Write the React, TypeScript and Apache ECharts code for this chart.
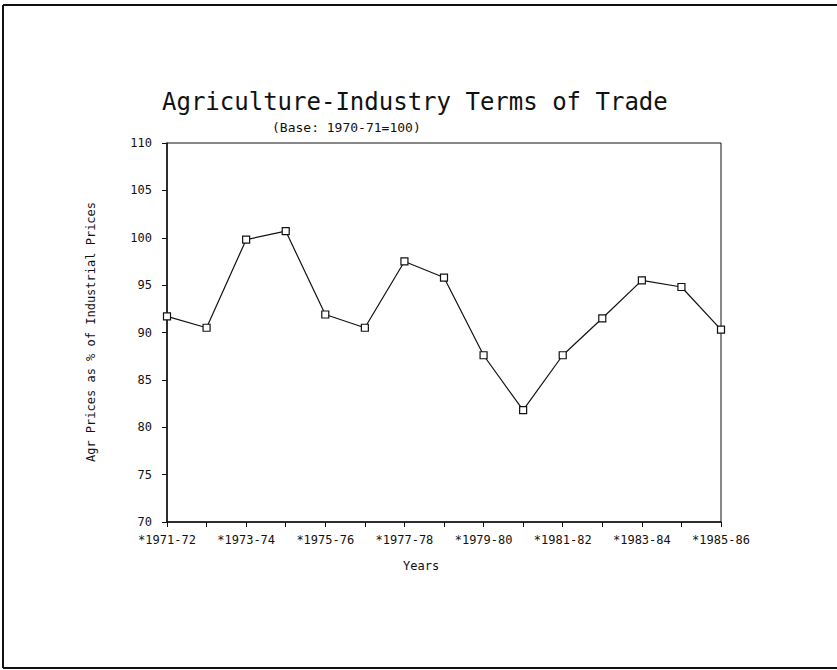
import React, { useEffect, useRef } from "react";
import * as echarts from "echarts";

const categories = [
  "1971-72", "1972-73", "1973-74", "1974-75", "1975-76", "1976-77", "1977-78", "1978-79",
  "1979-80", "1980-81", "1981-82", "1982-83", "1983-84", "1984-85", "1985-86",
];
const termsOfTrade = [91.7, 90.5, 99.8, 100.7, 91.9, 90.5, 97.5, 95.8, 87.6, 81.8, 87.6, 91.5, 95.5, 94.8, 90.3];
const titleText = "Agriculture-Industry Terms of Trade";
const subtitleText = "(Base: 1970-71=100)";
const xAxisName = "Years";
const yAxisName = "Agr Prices as % of Industrial Prices";

const FONT = "'DejaVu Sans Mono', monospace";

export default function App() {
  const ref = useRef<HTMLDivElement>(null);
  useEffect(() => {
    if (!ref.current) return;
    const chart = echarts.init(ref.current, null, { renderer: "svg" });
    chart.setOption({
      animation: false,
      backgroundColor: "#ffffff",
      grid: {
        left: 167,
        top: 143,
        width: 554,
        height: 379,
        show: true,
        borderColor: "#111",
        borderWidth: 1,
        containLabel: false,
      },
      xAxis: {
        type: "category",
        data: categories,
        boundaryGap: false,
        axisLine: { lineStyle: { color: "#111", width: 1.5 } },
        axisTick: { show: true, inside: false, length: 5, interval: 0, lineStyle: { color: "#111" } },
        axisLabel: {
          interval: 1,
          margin: 12,
          color: "#111",
          fontFamily: FONT,
          fontSize: 12,
          formatter: (v: string) => "*" + v,
        },
        splitLine: { show: false },
      },
      yAxis: {
        type: "value",
        min: 70,
        max: 110,
        interval: 5,
        axisLine: { show: true, lineStyle: { color: "#111", width: 1.5 } },
        axisTick: { show: true, length: 5, lineStyle: { color: "#111" } },
        axisLabel: { margin: 15, color: "#111", fontFamily: FONT, fontSize: 12 },
        splitLine: { show: false },
      },
      series: [
        {
          type: "line",
          data: termsOfTrade,
          symbol: "rect",
          symbolSize: 7,
          showAllSymbol: true,
          lineStyle: { color: "#111", width: 1.2 },
          itemStyle: { color: "#fff", borderColor: "#111", borderWidth: 1.2 },
        },
      ],
      graphic: [
        { type: "line", shape: { x1: 3, y1: 5, x2: 837, y2: 5 }, style: { stroke: "#111", lineWidth: 2 } },
        { type: "line", shape: { x1: 3, y1: 5, x2: 3, y2: 668 }, style: { stroke: "#111", lineWidth: 2 } },
        { type: "line", shape: { x1: 3, y1: 668, x2: 837, y2: 668 }, style: { stroke: "#111", lineWidth: 2 } },
        {
          type: "text",
          left: 162,
          top: 90,
          style: { text: titleText, fontFamily: FONT, fontSize: 24, fill: "#111" },
        },
        {
          type: "text",
          left: 272,
          top: 121,
          style: { text: subtitleText, fontFamily: FONT, fontSize: 13, fill: "#111" },
        },
        {
          type: "text",
          left: 403,
          top: 560,
          style: { text: xAxisName, fontFamily: FONT, fontSize: 12, fill: "#111" },
        },
        {
          type: "text",
          x: 91,
          y: 332,
          rotation: Math.PI / 2,
          style: {
            text: yAxisName,
            fontFamily: FONT,
            fontSize: 12,
            fill: "#111",
            align: "center",
            verticalAlign: "middle",
          },
        },
      ],
    });
    return () => chart.dispose();
  }, []);
  return (
    <div
      ref={ref}
      style={{ position: "fixed", left: 0, top: 0, width: 837, height: 670 }}
    />
  );
}
